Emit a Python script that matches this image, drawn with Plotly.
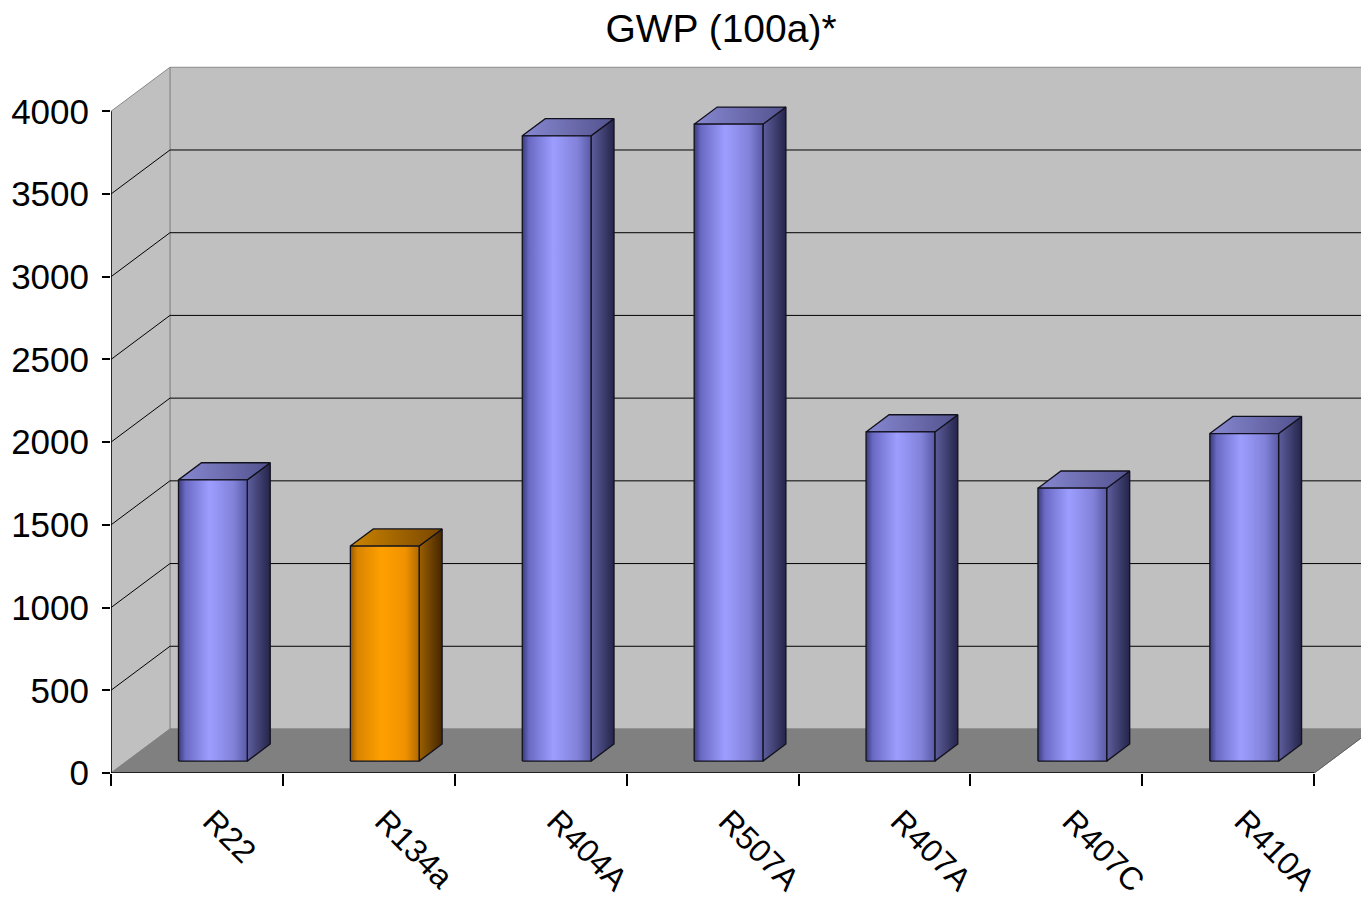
import plotly.graph_objects as go

# Global warming potential over 100 years for common refrigerants
refrigerants = ["R22", "R134a", "R404A", "R507A", "R407A", "R407C", "R410A"]
gwp_100a = [1700, 1300, 3780, 3850, 1990, 1650, 1980]
highlighted = ["R134a"]
y_tick_values = [0, 500, 1000, 1500, 2000, 2500, 3000, 3500, 4000]

# Pseudo-3D projection: depth offset of the back wall in axis units
DEPTH_X = 0.343          # category slots
DEPTH_Y = 266            # value units
WALL_TOP = 4000
X_MAX = 7.272
Y_MAX = 4310
BAR_W = 0.40
FRONT, BACK = 0.27, 0.66  # bar depth position as a fraction of full depth
LABEL_SHIFT = 0.09        # rotated category labels sit slightly right of the slot centre

WALL = "#c0c0c0"
FLOOR = "#808080"
EDGE = "#8a8a8a"

blue = dict(
    front=[[0, "#3a3a7a"], [0.1, "#6a6ac4"], [0.45, "#9d9dff"], [0.8, "#8282da"], [1, "#5a5aa6"]],
    side=[[0, "#5e5e9e"], [1, "#24244a"]],
    top=[[0, "#8888d2"], [1, "#52528e"]],
)
orange = dict(
    front=[[0, "#985800"], [0.1, "#d88400"], [0.45, "#ffa000"], [0.8, "#f09200"], [1, "#b06a00"]],
    side=[[0, "#9a6000"], [1, "#442600"]],
    top=[[0, "#cc8400"], [1, "#784600"]],
)

n = len(refrigerants)
fig = go.Figure()


def poly(xs, ys, fill=None, line_color="rgba(0,0,0,0)", width=1, gradient=None):
    tr = dict(
        x=list(xs) + [xs[0]], y=list(ys) + [ys[0]], mode="lines",
        line=dict(color=line_color, width=width),
        hoverinfo="skip", showlegend=False,
    )
    if fill is not None or gradient is not None:
        tr["fill"] = "toself"
        if gradient is not None:
            tr["fillgradient"] = dict(type="horizontal", colorscale=gradient)
        else:
            tr["fillcolor"] = fill
    fig.add_trace(go.Scatter(**tr))


# back wall, side wall, floor
poly([DEPTH_X, X_MAX + 1, X_MAX + 1, DEPTH_X],
     [DEPTH_Y, DEPTH_Y, WALL_TOP + DEPTH_Y, WALL_TOP + DEPTH_Y], fill=WALL, line_color=EDGE)
poly([0, DEPTH_X, DEPTH_X, 0],
     [0, DEPTH_Y, WALL_TOP + DEPTH_Y, WALL_TOP], fill=WALL, line_color=EDGE)
poly([0, n, n + DEPTH_X, DEPTH_X],
     [0, 0, DEPTH_Y, DEPTH_Y], fill=FLOOR, line_color=FLOOR)

# gridlines on the side wall and back wall
gx, gy = [], []
for v in y_tick_values[1:-1]:
    gx += [0, DEPTH_X, X_MAX + 1, None]
    gy += [v, v + DEPTH_Y, v + DEPTH_Y, None]
fig.add_trace(go.Scatter(x=gx, y=gy, mode="lines", line=dict(color="black", width=1),
                         hoverinfo="skip", showlegend=False))

# floor right edge, axis lines and category tick marks
fig.add_trace(go.Scatter(x=[n, n + DEPTH_X], y=[0, DEPTH_Y], mode="lines",
                         line=dict(color="#606060", width=1), hoverinfo="skip", showlegend=False))
fig.add_trace(go.Scatter(x=[0, n, None, 0, 0], y=[0, 0, None, 0, WALL_TOP], mode="lines",
                         line=dict(color="black", width=1.5), hoverinfo="skip", showlegend=False))

# bars
ddx = (BACK - FRONT) * DEPTH_X
ddy = (BACK - FRONT) * DEPTH_Y
for i, (name, v) in enumerate(zip(refrigerants, gwp_100a)):
    pal = orange if name in highlighted else blue
    c = i + 0.5 + FRONT * DEPTH_X
    xl, xr = c - BAR_W / 2, c + BAR_W / 2
    y0 = FRONT * DEPTH_Y
    y1 = y0 + v
    edge = "#12121e"
    poly([xr, xr + ddx, xr + ddx, xr], [y0, y0 + ddy, y1 + ddy, y1],
         gradient=pal["side"], line_color=edge, width=1.3)
    poly([xl, xr, xr + ddx, xl + ddx], [y1, y1, y1 + ddy, y1 + ddy],
         gradient=pal["top"], line_color=edge, width=1.3)
    poly([xl, xr, xr, xl], [y0, y0, y1, y1], gradient=pal["front"], line_color=edge, width=1.3)

font_family = "Liberation Sans, Arial, sans-serif"
fig.update_layout(
    width=1361, height=900,
    margin=dict(l=111, r=0, t=60, b=127),
    paper_bgcolor="white", plot_bgcolor="white",
    title=dict(text="GWP (100a)*", x=721 / 1361, xref="container", xanchor="center",
               y=1 - 28 / 900, yref="container", yanchor="middle",
               font=dict(family=font_family, size=39, color="black")),
    xaxis=dict(range=[0, X_MAX], showgrid=False, zeroline=False, showline=False,
               tickmode="array", tickvals=[i + 0.5 + LABEL_SHIFT for i in range(n)],
               ticktext=refrigerants,
               tickangle=45, ticks="", ticklabelstandoff=22,
               tickfont=dict(family=font_family, size=32, color="black"),
               minor=dict(tickmode="array", tickvals=list(range(n + 1)), ticks="outside",
                          ticklen=12, tickwidth=1.5, tickcolor="black", showgrid=False)),
    yaxis=dict(range=[0, Y_MAX], showgrid=False, zeroline=False, showline=False,
               tickmode="array", tickvals=y_tick_values, ticks="outside", ticklen=8,
               tickwidth=1.5, tickcolor="black", ticklabelstandoff=6,
               tickfont=dict(family=font_family, size=35, color="black")),
)

fig.write_html("out.html")
